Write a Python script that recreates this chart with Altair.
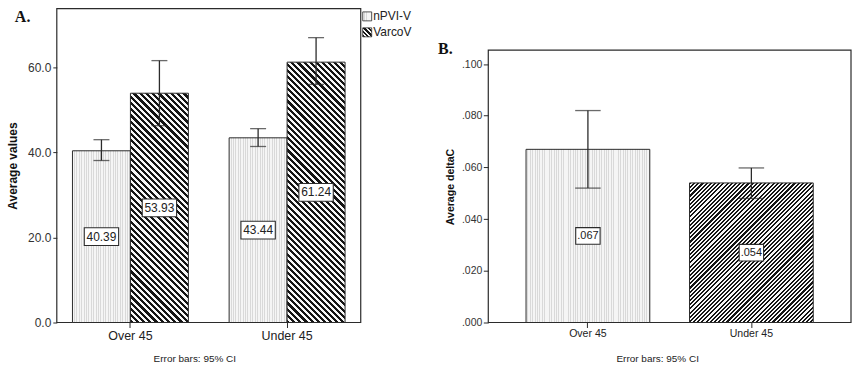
import altair as alt
import pandas as pd

# ---------------- data ----------------
groups = ["Over 45", "Under 45"]
series_a = ["nPVI-V", "VarcoV"]
a_npvi_mean = [40.39, 43.44]
a_npvi_lo = [38.1, 41.4]
a_npvi_hi = [43.0, 45.6]
a_varco_mean = [53.93, 61.24]
a_varco_lo = [46.3, 56.0]
a_varco_hi = [61.6, 67.0]
a_ticks = [0, 20, 40, 60]

b_mean = [0.067, 0.054]
b_lo = [0.052, 0.048]
b_hi = [0.082, 0.0598]
b_text = [".067", ".054"]
b_ticks = [0.0, 0.02, 0.04, 0.06, 0.08, 0.10]

panel_tags = ["A.", "B."]
y_titles = ["Average values", "Average deltaC"]
note = "Error bars: 95% CI"

# ---------------- styles ----------------
FONT = "Liberation Sans"
SERIF = "Liberation Serif"
INK = "#2b2b2b"
DARK = "#141414"
LIGHT = "#f7f7f7"
DOT1 = "#f5f5f5"
DOT2 = "#d9d9d9"

A_W, A_H, A_MAX = 305, 315, 73.83
B_W, B_H, B_MAX, B_TOP = 364, 315, 0.12144, 0.1054
A_PI, A_PO = 0.26, 0.1
B_PI, B_PO = 0.243, 0.231


def bandwidth(W, n, pi, po):
    step = W / (n - pi + 2 * po)
    return step * (1 - pi)


def vstripes(w, period, c1=DOT1, c2=DOT2):
    n = max(1, int(round(w / period)))
    stops = []
    for k in range(n):
        a, m, b = k / n, (k + 0.6) / n, (k + 1) / n
        stops += [{"offset": round(a, 5), "color": c1}, {"offset": round(m, 5), "color": c1},
                  {"offset": round(m, 5), "color": c2}, {"offset": round(b, 5), "color": c2}]
    return {"gradient": "linear", "x1": 0, "y1": 0, "x2": 1, "y2": 0, "stops": stops}


def diag(w, h, period, direction, dark=DARK, light=LIGHT):
    F = w + h
    n = max(1, int(round(F / period)))
    k = (w + h) / (w * w + h * h)
    if direction == "back":  # "\" stripes
        x1, y1, x2, y2 = 0, 1, k * w, 1 - k * h
    else:  # "/" stripes
        x1, y1, x2, y2 = 0, 0, k * w, k * h
    stops = []
    for j in range(n):
        a, m, b = j / n, (j + 0.5) / n, (j + 1) / n
        stops += [{"offset": round(a, 5), "color": dark}, {"offset": round(m, 5), "color": dark},
                  {"offset": round(m, 5), "color": light}, {"offset": round(b, 5), "color": light}]
    return {"gradient": "linear", "x1": round(x1, 5), "y1": round(y1, 5),
            "x2": round(x2, 5), "y2": round(y2, 5), "stops": stops}


BOX_A = "M-1,-0.515L1,-0.515L1,0.515L-1,0.515Z"
BOX_B = "M-1,-0.68L1,-0.68L1,0.68L-1,0.68Z"

# ---------------- panel A ----------------
df_a = pd.DataFrame({
    "group": groups * 2,
    "series": [series_a[0]] * 2 + [series_a[1]] * 2,
    "mean": a_npvi_mean + a_varco_mean,
    "lo": a_npvi_lo + a_varco_lo,
    "hi": a_npvi_hi + a_varco_hi,
})
df_a["label"] = df_a["mean"].map(lambda v: f"{v:.2f}")
df_a["mid"] = df_a["mean"] / 2

axA_x = alt.Axis(title=None, labelAngle=0, domain=False, grid=False, tickSize=5, tickColor=INK,
                 tickWidth=1, labelFont=FONT, labelFontSize=12.5, labelColor="#222", labelPadding=2)
axA_y = alt.Axis(values=a_ticks, format=".1f", title=y_titles[0], titleX=-44, titleY=A_H / 2,
                 titleAngle=270, titleAlign="center", titleBaseline="middle", titleFont=FONT,
                 titleFontSize=12, titleFontWeight="bold", titleColor="#111", labelFont=FONT,
                 labelFontSize=12, labelColor="#333", labelPadding=2, tickSize=4, tickColor=INK,
                 tickWidth=1, domain=False, grid=False)
scA_y = alt.Scale(domain=[0, A_MAX], nice=False)
xA = alt.X("group:N", scale=alt.Scale(domain=groups, paddingInner=A_PI, paddingOuter=A_PO), axis=axA_x)
xoA = alt.XOffset("series:N", scale=alt.Scale(domain=series_a, paddingInner=0, paddingOuter=0))


def yA(field):
    return alt.Y(f"{field}:Q", scale=scA_y, axis=axA_y)


one = pd.DataFrame({"k": [0]})
bwA = bandwidth(A_W, len(groups), A_PI, A_PO) / len(series_a)

layers_a = [alt.Chart(one).mark_rect(fill="transparent", stroke=INK, strokeWidth=1.2).encode(
    x=alt.value(0), x2=alt.value(A_W), y=alt.value(0), y2=alt.value(A_H))]

for i in range(len(df_a)):
    row = df_a.iloc[[i]]
    h = float(row["mean"].iloc[0]) * A_H / A_MAX
    if row["series"].iloc[0] == series_a[0]:
        fill = vstripes(bwA, 2.4)
    else:
        fill = diag(bwA, h, 6.2, "back")
    layers_a.append(alt.Chart(row).mark_bar(fill=fill, stroke=INK, strokeWidth=1).encode(
        x=xA, xOffset=xoA, y=yA("mean")))

layers_a += [
    alt.Chart(df_a).mark_rule(color=INK, strokeWidth=1.3).encode(x=xA, xOffset=xoA, y=yA("lo"), y2="hi:Q"),
    alt.Chart(df_a).mark_tick(orient="horizontal", size=16, thickness=1.3, color=INK).encode(
        x=xA, xOffset=xoA, y=yA("lo")),
    alt.Chart(df_a).mark_tick(orient="horizontal", size=16, thickness=1.3, color=INK).encode(
        x=xA, xOffset=xoA, y=yA("hi")),
    alt.Chart(df_a).mark_point(shape=BOX_A, size=1190, filled=True, fill="white", stroke=INK,
                               strokeWidth=1.1, opacity=1).encode(x=xA, xOffset=xoA, y=yA("mid")),
    alt.Chart(df_a).mark_text(font=FONT, fontSize=12, color="#222", baseline="middle").encode(
        x=xA, xOffset=xoA, y=yA("mid"), text="label:N"),
]

# legend (manual)
for i, s in enumerate(series_a):
    d = pd.DataFrame({"series": [s]})
    fill = vstripes(9, 2.4) if i == 0 else diag(9, 9, 4.0, "back")
    layers_a.append(alt.Chart(d).mark_rect(fill=fill, stroke=INK, strokeWidth=0.8).encode(
        x=alt.value(307), x2=alt.value(316), y=alt.value(3.3 + 16 * i), y2=alt.value(12.3 + 16 * i)))
    layers_a.append(alt.Chart(d).mark_text(align="left", baseline="middle", font=FONT, fontSize=12,
                                           color="#222").encode(
        x=alt.value(317.5), y=alt.value(7.8 + 16 * i), text="series:N"))

layers_a.append(alt.Chart(pd.DataFrame({"t": [panel_tags[0]]})).mark_text(
    font=SERIF, fontSize=16, fontWeight="bold", color="#111", baseline="middle").encode(
    x=alt.value(-34.3), y=alt.value(8.3), text="t:N"))
layers_a.append(alt.Chart(pd.DataFrame({"t": [note]})).mark_text(
    font=FONT, fontSize=10, color="#222", baseline="middle").encode(
    x=alt.value(138.5), y=alt.value(351.3), text="t:N"))

chart_a = alt.layer(*layers_a).properties(width=A_W, height=A_H)

# ---------------- panel B ----------------
df_b = pd.DataFrame({"group": groups, "mean": b_mean, "lo": b_lo, "hi": b_hi, "label": b_text})
df_b["mid"] = df_b["mean"] / 2

axB_x = alt.Axis(title=None, labelAngle=0, domain=False, grid=False, tickSize=5, tickColor=INK,
                 tickWidth=1, labelFont=FONT, labelFontSize=10.6, labelColor="#222", labelPadding=1.5)
axB_y = alt.Axis(values=b_ticks, labelExpr="substring(format(datum.value, '.3f'), 1)",
                 title=y_titles[1], titleX=-38, titleY=178.5, titleAngle=270, titleAlign="center",
                 titleBaseline="middle", titleFont=FONT, titleFontSize=10.6, titleFontWeight="bold",
                 titleColor="#111", labelFont=FONT, labelFontSize=10.5, labelColor="#333",
                 labelPadding=1.5, tickSize=5, tickColor=INK, tickWidth=1, domain=False, grid=False)
scB_y = alt.Scale(domain=[0, B_MAX], nice=False)
xB = alt.X("group:N", scale=alt.Scale(domain=groups, paddingInner=B_PI, paddingOuter=B_PO), axis=axB_x)


def yB(field):
    return alt.Y(f"{field}:Q", scale=scB_y, axis=axB_y)


bwB = bandwidth(B_W, len(groups), B_PI, B_PO)

layers_b = [alt.Chart(one).mark_rect(fill="transparent", stroke=INK, strokeWidth=1.2).encode(
    x=alt.value(0), x2=alt.value(B_W), y=alt.Y(datum=B_TOP, scale=scB_y, axis=axB_y),
    y2=alt.Y2(datum=0))]

for i in range(len(df_b)):
    row = df_b.iloc[[i]]
    h = float(row["mean"].iloc[0]) * B_H / B_MAX
    fill = vstripes(bwB, 2.4) if i == 0 else diag(bwB, h, 4.2, "fwd")
    layers_b.append(alt.Chart(row).mark_bar(fill=fill, stroke=INK, strokeWidth=1).encode(
        x=xB, y=yB("mean")))

layers_b += [
    alt.Chart(df_b).mark_rule(color=INK, strokeWidth=1.3).encode(x=xB, y=yB("lo"), y2="hi:Q"),
    alt.Chart(df_b).mark_tick(orient="horizontal", size=25.6, thickness=1.3, color=INK).encode(
        x=xB, y=yB("lo")),
    alt.Chart(df_b).mark_tick(orient="horizontal", size=25.6, thickness=1.3, color=INK).encode(
        x=xB, y=yB("hi")),
    alt.Chart(df_b).mark_point(shape=BOX_B, size=600, filled=True, fill="white", stroke=INK,
                               strokeWidth=1.1, opacity=1).encode(x=xB, y=yB("mid")),
    alt.Chart(df_b).mark_text(font=FONT, fontSize=11, color="#222", baseline="middle").encode(
        x=xB, y=yB("mid"), text="label:N"),
    alt.Chart(pd.DataFrame({"t": [panel_tags[1]]})).mark_text(
        font=SERIF, fontSize=16, fontWeight="bold", color="#111", baseline="middle").encode(
        x=alt.value(-43), y=alt.value(40.8), text="t:N"),
    alt.Chart(pd.DataFrame({"t": [note]})).mark_text(
        font=FONT, fontSize=10, color="#222", baseline="middle").encode(
        x=alt.value(170), y=alt.value(351.8), text="t:N"),
]

chart_b = alt.layer(*layers_b).properties(width=B_W, height=B_H)

chart = alt.hconcat(chart_a, chart_b, spacing=128, bounds="flush").properties(
    padding={"left": 6, "top": 6, "right": 0, "bottom": 0}
).configure_view(stroke="transparent")

chart.save("out.html", embed_options={"renderer": "svg", "actions": False})
